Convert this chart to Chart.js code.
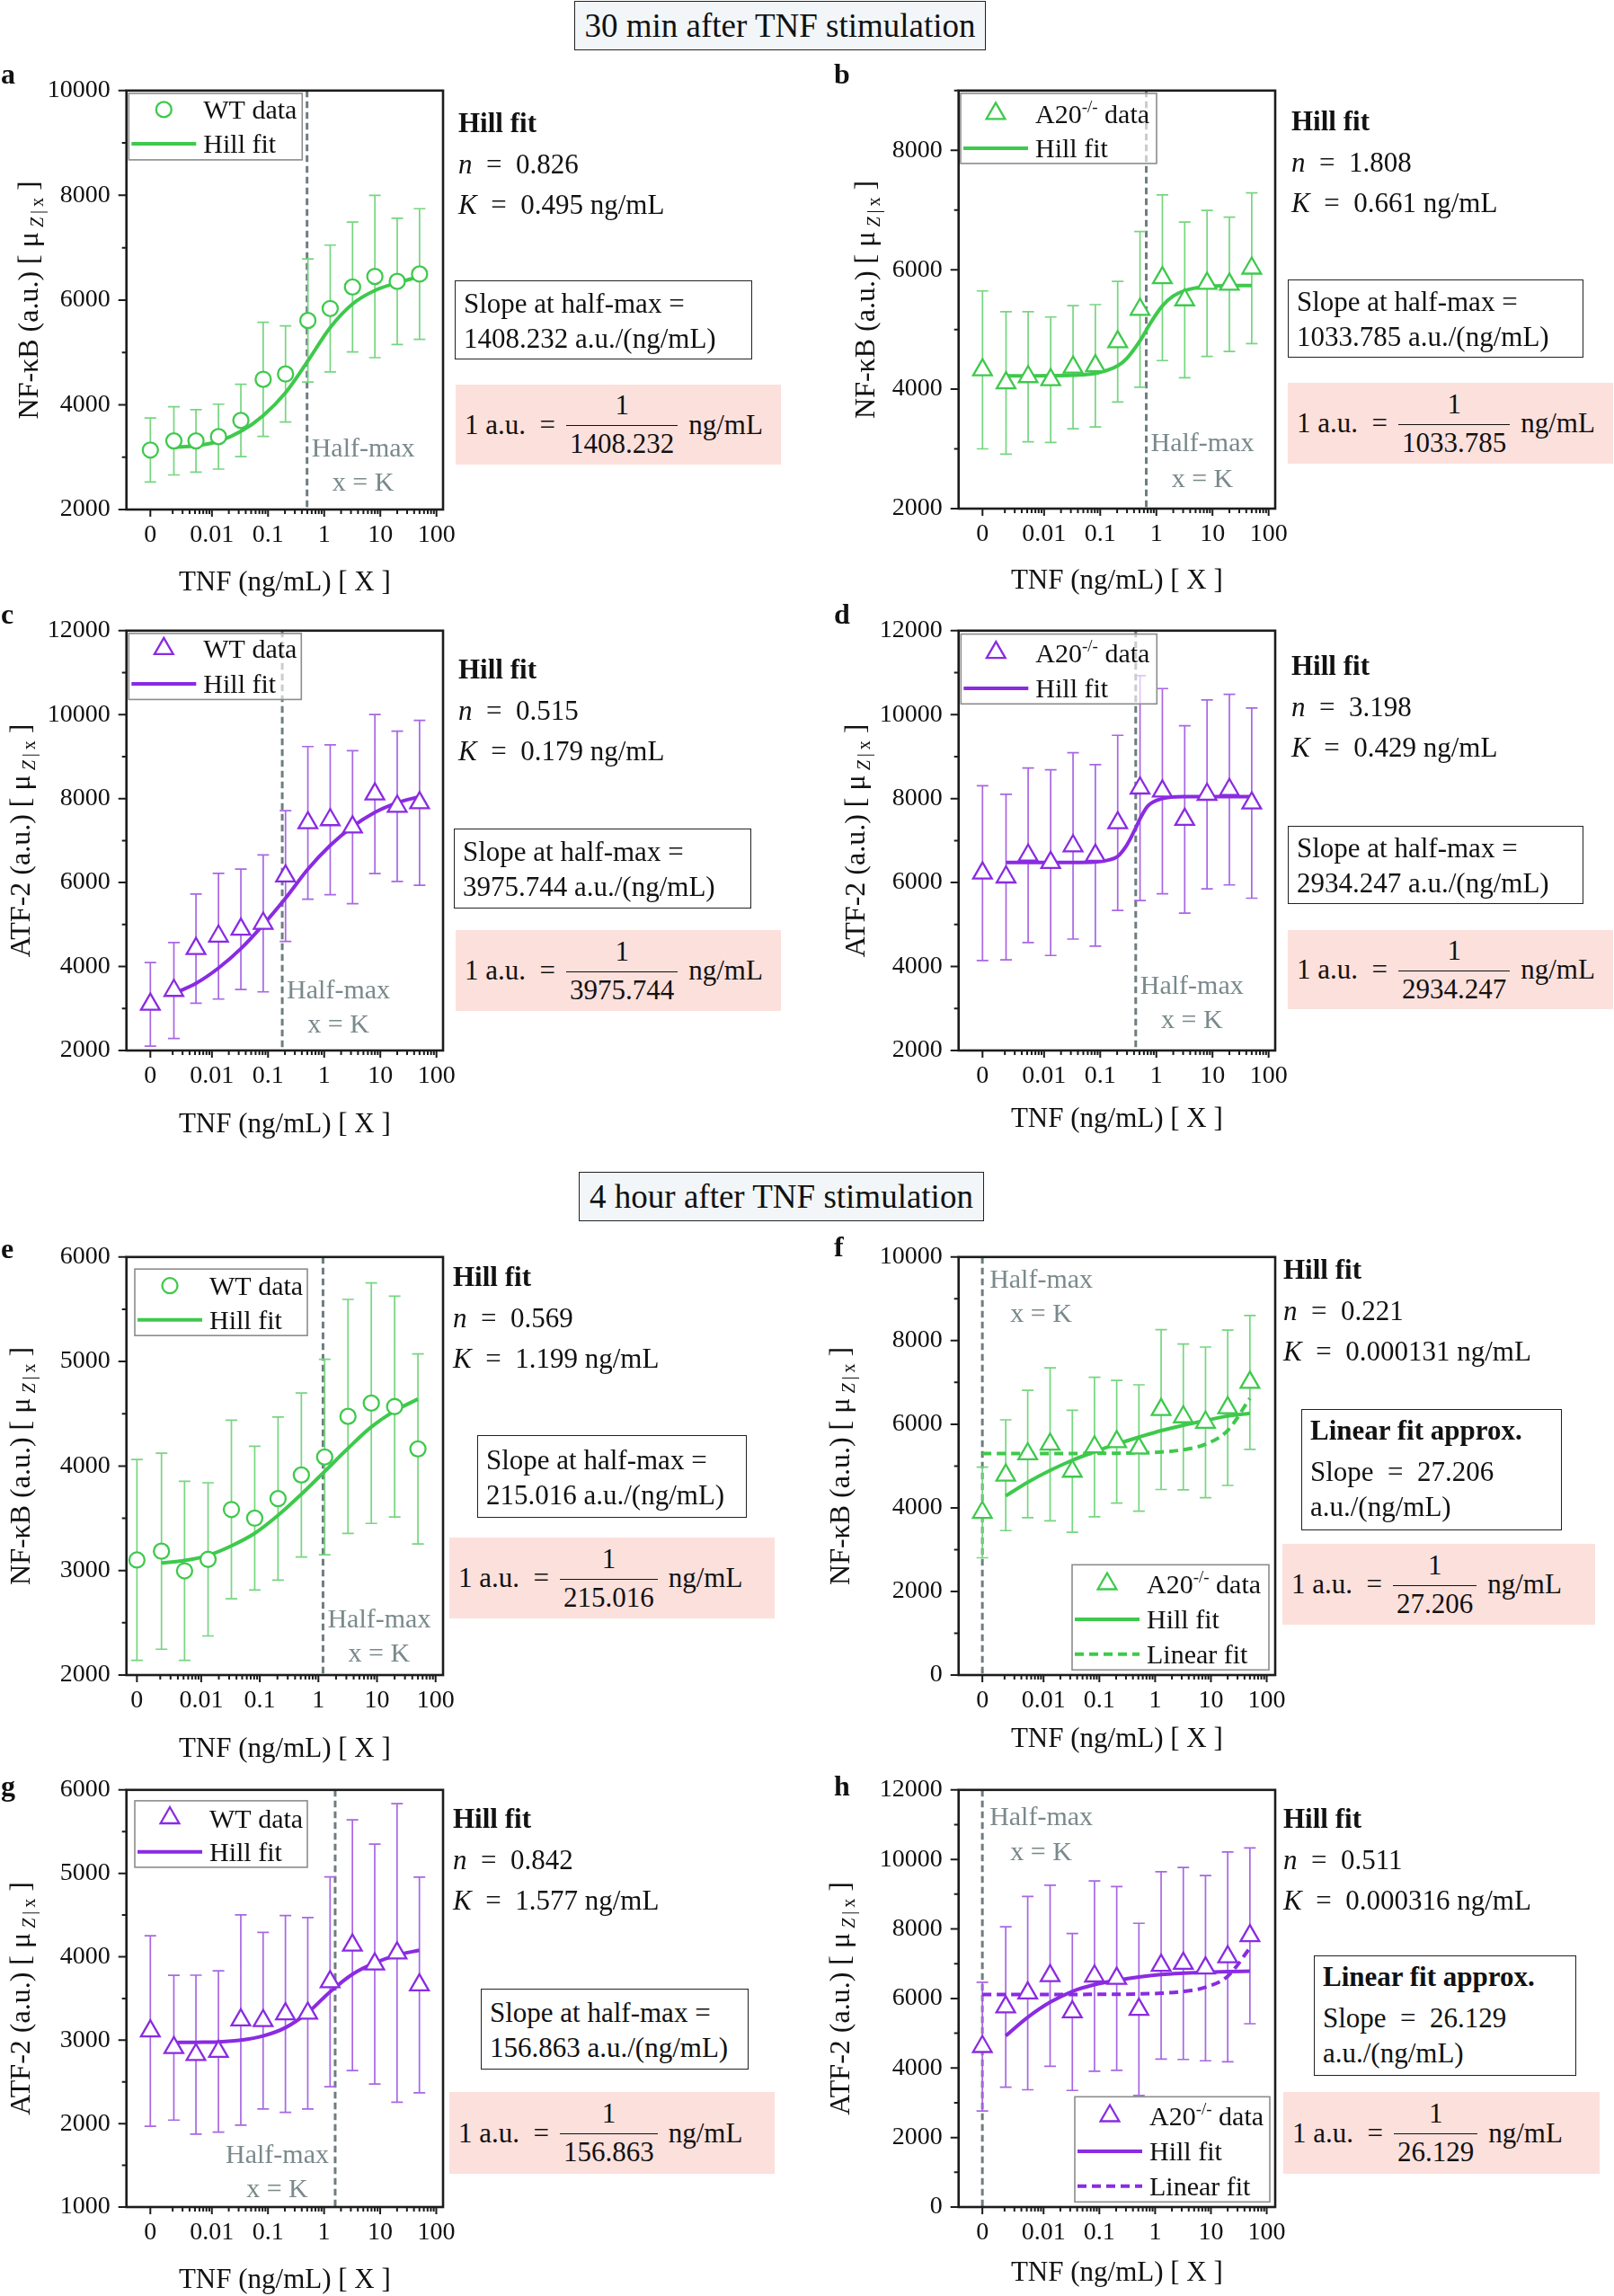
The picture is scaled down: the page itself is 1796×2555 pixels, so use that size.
<!DOCTYPE html>
<html>
<head>
<meta charset="utf-8">
<script src="https://cdn.jsdelivr.net/npm/chart.js@4.4.1/dist/chart.umd.min.js"></script>
<style>
  body { margin: 0; background: #fff; width: 1796px; height: 2555px; position: relative; overflow: hidden;
         font-family: "Liberation Serif", "Times New Roman", serif; color: #111; }
  .txt { position: absolute; white-space: nowrap; line-height: 1; }
  .panel { position: absolute; }
  .sbox { position: absolute; border: 1.6px solid #222; box-sizing: border-box; }
  .pink { position: absolute; background: #fce0dc; display: flex; align-items: center; padding-left: 10px;
          box-sizing: border-box; font-size: 31px; line-height: 34px; white-space: nowrap; }
  .frac { display: inline-flex; flex-direction: column; text-align: center; margin: 0 12px; }
  .num { padding: 0 4px 5px; border-bottom: 1.6px solid #111; }
  .den { padding: 3px 4px 0; }
  .ttl { position: absolute; border: 1.6px solid #222; background: #f2f6f8; font-size: 37px; box-sizing: border-box;
         display: flex; align-items: center; justify-content: center; white-space: nowrap; }
</style>
</head>
<body>
<div class="ttl" style="left:639px;top:1px;width:458px;height:55px">30 min after TNF stimulation</div>
<div class="ttl" style="left:644px;top:1304px;width:451px;height:55px">4 hour after TNF stimulation</div>
<script>
// TNF doses (ng/mL); dose 0 is shown at the "0" tick on the log axis
const tnfDose = [0, 0.0021, 0.0052, 0.0131, 0.0328, 0.0819, 0.2048, 0.512, 1.28, 3.2, 8, 20, 50];
const fitDose = tnfDose.slice(1);
const zeroAt = 0.0008;
const xTickDose = [0, 0.01, 0.1, 1, 10, 100];
const xTickLabels = ['0', '0.01', '0.1', '1', '10', '100'];

// a: NF-kB, WT, 30 min
const aMean = [3136, 3311, 3311, 3392, 3701, 4487, 4588, 5610, 5839, 6249, 6450, 6356, 6497];
const aErr = [612, 650, 595, 620, 690, 1090, 918, 1175, 1210, 1240, 1550, 1205, 1247];
const aFit = [3190, 3217, 3304, 3492, 3795, 4232, 4837, 5476, 5926, 6182, 6329, 6450];
// b: NF-kB, A20-/-, 30 min
const bMean = [4323, 4105, 4208, 4158, 4367, 4391, 4794, 5336, 5866, 5495, 5772, 5757, 6025];
const bErr = [1322, 1193, 1090, 1051, 1031, 1025, 1010, 1304, 1387, 1304, 1222, 1125, 1263];
const bFitDose = [0.0021, 0.0052, 0.0131, 0.0328, 0.0819, 0.2048, 0.3, 0.512, 0.8, 1.28, 2, 3.2, 8, 20, 50];
const bFit = [4222, 4224, 4226, 4236, 4265, 4392, 4520, 4812, 5120, 5395, 5560, 5652, 5722, 5734, 5736];
// c: ATF-2, WT, 30 min
const cMean = [3100, 3429, 4427, 4723, 4886, 5028, 6156, 7422, 7495, 7321, 8108, 7816, 7901];
const cErr = [994, 1144, 1299, 1498, 1433, 1631, 1558, 1818, 1786, 1822, 1895, 1790, 1964];
const cFit = [3356, 3599, 3964, 4427, 4995, 5628, 6318, 6886, 7333, 7674, 7901, 8047];
// d: ATF-2, A20-/-, 30 min
const dMean = [6225, 6131, 6651, 6476, 6874, 6647, 7422, 8250, 8177, 7503, 8100, 8213, 7893];
const dErr = [2082, 1972, 2078, 2212, 2220, 2163, 2086, 2679, 2443, 2232, 2252, 2269, 2265];
const dFitDose = [0.0021, 0.0052, 0.0131, 0.0328, 0.0819, 0.15, 0.2048, 0.3, 0.429, 0.512, 0.7, 1.28, 3.2, 8, 20, 50];
const dFit = [6481, 6481, 6481, 6481, 6490, 6545, 6625, 6900, 7300, 7520, 7820, 8000, 8045, 8047, 8047, 8047];
// e: NF-kB, WT, 4 h
const eMean = [3101, 3185, 2997, 3107, 3584, 3501, 3688, 3914, 4086, 4475, 4602, 4569, 4164];
const eErr = [961, 938, 857, 733, 855, 688, 780, 785, 935, 1119, 1151, 1057, 909];
const eFit = [3073, 3096, 3145, 3236, 3356, 3528, 3730, 3948, 4169, 4374, 4527, 4641];
// f: NF-kB, A20-/-, 4 h
const fMean = [3890, 4780, 5289, 5520, 4874, 5455, 5581, 5431, 6350, 6175, 6045, 6394, 7000];
const fErr = [1085, 1325, 1524, 1829, 1459, 1667, 1467, 1512, 1911, 1744, 1801, 1858, 1602];
const fFit = [4285, 4610, 4894, 5138, 5341, 5528, 5691, 5846, 5976, 6089, 6195, 6260];
const fLinear = [5300, 5300, 5300, 5300, 5300, 5302, 5306, 5315, 5335, 5390, 5520, 5850, 6620];
// g: ATF-2, WT, 4 h
const gMean = [3110, 2910, 2826, 2864, 3242, 3233, 3314, 3322, 3700, 4138, 3912, 4045, 3662];
const gErr = [1141, 868, 953, 967, 1260, 1058, 1179, 1147, 1258, 1502, 1438, 1789, 1292];
const gFit = [2972, 2975, 2980, 3000, 3050, 3150, 3330, 3580, 3790, 3925, 4020, 4078];
// h: ATF-2, A20-/-, 4 h
const hMean = [4614, 5757, 6155, 6654, 5612, 6644, 6576, 5685, 6950, 7008, 6872, 7197, 7803];
const hErr = [1851, 2307, 2782, 2603, 2258, 2738, 2641, 2477, 2695, 2762, 2665, 3019, 2530];
const hFit = [4924, 5457, 5893, 6203, 6397, 6523, 6620, 6688, 6727, 6756, 6775, 6785];
const hLinear = [6116, 6116, 6116, 6116, 6116, 6118, 6121, 6129, 6150, 6200, 6325, 6640, 7450];

// y tick labels
const aYTicks = [2000, 4000, 6000, 8000, 10000];
const bYTicks = [2000, 4000, 6000, 8000];
const cYTicks = [2000, 4000, 6000, 8000, 10000, 12000];
const dYTicks = [2000, 4000, 6000, 8000, 10000, 12000];
const eYTicks = [2000, 3000, 4000, 5000, 6000];
const fYTicks = [0, 2000, 4000, 6000, 8000, 10000];
const gYTicks = [1000, 2000, 3000, 4000, 5000, 6000];
const hYTicks = [0, 2000, 4000, 6000, 8000, 10000, 12000];

// fit results shown as text
const hillN = ['0.826', '1.808', '0.515', '3.198', '0.569', '0.221', '0.842', '0.511'];
const hillK = [0.495, 0.661, 0.179, 0.429, 1.199, 0.000131, 1.577, 0.000316];
const hillKText = ['0.495', '0.661', '0.179', '0.429', '1.199', '0.000131', '1.577', '0.000316'];
const slopeText = ['1408.232', '1033.785', '3975.744', '2934.247', '215.016', '27.206', '156.863', '26.129'];

const GREEN = '#3ec94c', GREEN_ERR = '#76d680', PURPLE = '#8a2be2', PURPLE_ERR = '#a767e4';
const SERIF = '"Liberation Serif", "Times New Roman", serif';
const Y_AXIS_W = 165;

const panels = [
  { key: 'a', mean: aMean, err: aErr, fitX: fitDose, fit: aFit, yTicks: aYTicks, yName: 'NF-κB', strain: 'WT', marker: 'circle',
    color: GREEN, errColor: GREEN_ERR, box: [140.7, 96.4, 493.3, 566.9], xRange: [0.00034, 131], yRange: [2000, 10000],
    legend: { corner: 'tl', dx: 2.6, dy: 3.1, w: 193, h: 74, base: 28.5, gap: 37.5 }, hm: { side: 'right', from: 'bottom', d1: 59, d2: 21 },
    yTitleOff: 98.7, xTitleOff: 90, letterPos: [1, 93], hill: [510, 147], slopeBox: [506, 312, 331, 88], pinkBox: [507, 428, 362, 89] },
  { key: 'b', mean: bMean, err: bErr, fitX: bFitDose, fit: bFit, yTicks: bYTicks, yName: 'NF-κB', strain: 'A20', marker: 'triangle',
    color: GREEN, errColor: GREEN_ERR, box: [1066.7, 96.4, 1419, 566.1], xRange: [0.00034, 131], yRange: [2000, 9000],
    legend: { corner: 'tl', dx: 2.3, dy: 3.1, w: 218, h: 78, base: 33, gap: 38 }, hm: { side: 'right', from: 'bottom', d1: 64, d2: 24.5 },
    yTitleOff: 93.7, xTitleOff: 89, letterPos: [928, 93], hill: [1437, 145], slopeBox: [1433, 311, 329, 87], pinkBox: [1433, 426, 362, 90] },
  { key: 'c', mean: cMean, err: cErr, fitX: fitDose, fit: cFit, yTicks: cYTicks, yName: 'ATF-2', strain: 'WT', marker: 'triangle',
    color: PURPLE, errColor: PURPLE_ERR, box: [140.7, 697.2, 493.3, 1168.7], xRange: [0.00034, 131], yRange: [2000, 12000],
    legend: { corner: 'tl', dx: 2.6, dy: 3.1, w: 192, h: 73.5, base: 27.5, gap: 38.5 }, hm: { side: 'right', from: 'bottom', d1: 58, d2: 20 },
    yTitleOff: 107.7, xTitleOff: 91, letterPos: [1, 694], hill: [510, 755], slopeBox: [505, 922, 331, 89], pinkBox: [507, 1035, 362, 90] },
  { key: 'd', mean: dMean, err: dErr, fitX: dFitDose, fit: dFit, yTicks: dYTicks, yName: 'ATF-2', strain: 'A20', marker: 'triangle',
    color: PURPLE, errColor: PURPLE_ERR, box: [1066.7, 697.2, 1419, 1168.7], xRange: [0.00034, 131], yRange: [2000, 12000],
    legend: { corner: 'tl', dx: 2.6, dy: 3.8, w: 218, h: 77.7, base: 31, gap: 39.5 }, hm: { side: 'right', from: 'bottom', d1: 63, d2: 25 },
    yTitleOff: 104.7, xTitleOff: 85, letterPos: [928, 694], hill: [1437, 751], slopeBox: [1433, 919, 329, 87], pinkBox: [1433, 1035, 362, 88] },
  { key: 'e', mean: eMean, err: eErr, fitX: fitDose, fit: eFit, yTicks: eYTicks, yName: 'NF-κB', strain: 'WT', marker: 'circle',
    color: GREEN, errColor: GREEN_ERR, box: [140.7, 1393.7, 493.3, 1864.4], xRange: [0.00053, 134], yRange: [2000, 6000],
    legend: { corner: 'tl', dx: 9.3, dy: 13.4, w: 192, h: 74, base: 29, gap: 37.5 }, hm: { side: 'right', from: 'bottom', d1: 53, d2: 15 },
    yTitleOff: 107.7, xTitleOff: 91, letterPos: [1, 1400], hill: [504, 1431], slopeBox: [531, 1597, 300, 92], pinkBox: [500, 1711, 362, 90] },
  { key: 'f', mean: fMean, err: fErr, fitX: fitDose, fit: fFit, lin: fLinear, yTicks: fYTicks, yName: 'NF-κB', strain: 'A20', marker: 'triangle',
    color: GREEN, errColor: GREEN_ERR, box: [1066.7, 1393.7, 1419, 1864.4], xRange: [0.00034, 142], yRange: [0, 10000],
    legend: { corner: 'br', dx: 7, dy: 5.7, w: 219, h: 117, base: 31.7, gap: 38.9 }, hm: { side: 'right', from: 'top', d1: 33.7, d2: 72, gap: 8 }, hmAtZero: true,
    yTitleOff: 121.7, xTitleOff: 80, letterPos: [928, 1398], hill: [1428, 1423], linBox: [1448, 1568, 290, 135], pinkBox: [1427, 1718, 348, 90] },
  { key: 'g', mean: gMean, err: gErr, fitX: fitDose, fit: gFit, yTicks: gYTicks, yName: 'ATF-2', strain: 'WT', marker: 'triangle',
    color: PURPLE, errColor: PURPLE_ERR, box: [140.7, 1986.6, 493.3, 2456.4], xRange: [0.00032, 132], yRange: [1000, 6000],
    legend: { corner: 'tl', dx: 9.3, dy: 12.1, w: 192, h: 74, base: 29.6, gap: 37.2 }, hm: { side: 'left', from: 'bottom', d1: 48.6, d2: 10.6 },
    yTitleOff: 107.7, xTitleOff: 90, letterPos: [1, 1998], hill: [504, 2034], slopeBox: [535, 2213, 298, 90], pinkBox: [500, 2328, 362, 91] },
  { key: 'h', mean: hMean, err: hErr, fitX: fitDose, fit: hFit, lin: hLinear, yTicks: hYTicks, yName: 'ATF-2', strain: 'A20', marker: 'triangle',
    color: PURPLE, errColor: PURPLE_ERR, box: [1066.7, 1986.6, 1419, 2456.4], xRange: [0.00033, 142], yRange: [0, 12000],
    legend: { corner: 'br', dx: 6, dy: 5.7, w: 217, h: 117, base: 31.7, gap: 38.9 }, hm: { side: 'right', from: 'top', d1: 38.7, d2: 77.8, gap: 8 }, hmAtZero: true,
    yTitleOff: 121.7, xTitleOff: 82, letterPos: [928, 1998], hill: [1428, 2034], linBox: [1462, 2176, 292, 134], pinkBox: [1428, 2328, 352, 91] }
];

const CIRCLE_R = 8.5, TRI_R = 12;

function axisDose(d) { return d === 0 ? zeroAt : d; }
function font(size, style) { return (style || '') + ' ' + size + 'px ' + SERIF; }

// minor/major x tick positions on the log axis
const xMajor = xTickDose.map(axisDose);
const xAll = xMajor.slice();
for (let e = -3; e <= 1; e++) for (let k = 2; k <= 9; k++) xAll.push(k * Math.pow(10, e));
xAll.sort((p, q) => p - q);
function isMajorX(v) { return xMajor.some(m => Math.abs(Math.log10(m) - Math.log10(v)) < 1e-6); }

function richWidth(ctx, parts) {
  let w = 0;
  parts.forEach(pt => { ctx.font = pt.font; w += ctx.measureText(pt.t).width; });
  return w;
}
function drawRich(ctx, parts, x, y, align) {
  const w = richWidth(ctx, parts);
  let px = align === 'center' ? x - w / 2 : align === 'right' ? x - w : x;
  ctx.save();
  ctx.textAlign = 'left';
  ctx.textBaseline = 'alphabetic';
  parts.forEach(pt => { ctx.font = pt.font; ctx.fillText(pt.t, px, y + (pt.dy || 0)); px += ctx.measureText(pt.t).width; });
  ctx.restore();
  return w;
}

function drawMarker(ctx, style, x, y, color) {
  ctx.save();
  ctx.strokeStyle = color;
  ctx.fillStyle = '#fff';
  ctx.lineWidth = 2.3;
  ctx.beginPath();
  if (style === 'circle') {
    ctx.arc(x, y, CIRCLE_R, 0, Math.PI * 2);
  } else {
    for (let k = 0; k < 3; k++) {
      const ang = k * 2 * Math.PI / 3;
      const px = x + Math.sin(ang) * TRI_R, py = y - Math.cos(ang) * TRI_R;
      if (k) ctx.lineTo(px, py); else ctx.moveTo(px, py);
    }
    ctx.closePath();
  }
  ctx.fill();
  ctx.stroke();
  ctx.restore();
}

function decor(p) {
  return {
    id: 'decor' + p.key,
    beforeDatasetsDraw(chart) {
      const { ctx, chartArea: a, scales: { x, y } } = chart;
      // half-max dashed line
      const hx = x.getPixelForValue(p.hmAtZero ? zeroAt : p.K);
      ctx.save();
      ctx.strokeStyle = '#6e7d80';
      ctx.lineWidth = 3;
      ctx.setLineDash([7.5, 4.5]);
      ctx.beginPath();
      ctx.moveTo(hx, a.top);
      ctx.lineTo(hx, a.bottom);
      ctx.stroke();
      ctx.restore();
      // error bars
      ctx.save();
      ctx.strokeStyle = p.errColor;
      ctx.lineWidth = 1.7;
      ctx.beginPath();
      p.mean.forEach((m, i) => {
        const px = x.getPixelForValue(axisDose(tnfDose[i]));
        const t = y.getPixelForValue(m + p.err[i]), b = y.getPixelForValue(m - p.err[i]);
        ctx.moveTo(px, t); ctx.lineTo(px, b);
        ctx.moveTo(px - 6.5, t); ctx.lineTo(px + 6.5, t);
        ctx.moveTo(px - 6.5, b); ctx.lineTo(px + 6.5, b);
      });
      ctx.stroke();
      ctx.restore();
    },
    afterDatasetsDraw(chart) {
      const { ctx, chartArea: a, scales: { x, y } } = chart;
      ctx.save();
      // frame
      ctx.strokeStyle = '#1c1c1c';
      ctx.lineWidth = 2.6;
      ctx.strokeRect(a.left, a.top, a.right - a.left, a.bottom - a.top);
      // tick marks
      ctx.lineWidth = 2;
      ctx.beginPath();
      x.ticks.forEach(t => {
        const px = x.getPixelForValue(t.value);
        ctx.moveTo(px, a.bottom);
        ctx.lineTo(px, a.bottom + (isMajorX(t.value) ? 8 : 5));
      });
      y.ticks.forEach(t => {
        const py = y.getPixelForValue(t.value);
        ctx.moveTo(a.left, py);
        ctx.lineTo(a.left - (p.yTicks.includes(t.value) ? 9 : 5), py);
      });
      ctx.stroke();

      // half-max label
      const hx = x.getPixelForValue(p.hmAtZero ? zeroAt : p.K);
      ctx.fillStyle = '#7a898b';
      const hmParts = [{ t: 'Half-max', font: font(30) }];
      const xkParts = [{ t: 'x = K', font: font(30) }];
      const hw = richWidth(ctx, hmParts);
      const gap = p.hm.gap || 5;
      const cx = p.hm.side === 'right' ? hx + gap + hw / 2 : hx - 7 - hw / 2;
      const y1 = p.hm.from === 'bottom' ? a.bottom - p.hm.d1 : a.top + p.hm.d1;
      const y2 = p.hm.from === 'bottom' ? a.bottom - p.hm.d2 : a.top + p.hm.d2;
      drawRich(ctx, hmParts, cx, y1, 'center');
      drawRich(ctx, xkParts, cx, y2, 'center');

      // legend
      const L = p.legend;
      const bx = L.corner === 'tl' ? a.left + L.dx : a.right - L.dx - L.w;
      const by = L.corner === 'tl' ? a.top + L.dy : a.bottom - L.dy - L.h;
      ctx.fillStyle = 'rgba(255,255,255,0.62)';
      ctx.fillRect(bx, by, L.w, L.h);
      ctx.strokeStyle = '#8c8c8c';
      ctx.lineWidth = 1.6;
      ctx.strokeRect(bx, by, L.w, L.h);
      drawMarker(ctx, p.marker, bx + 39, by + L.base - 10.5, p.color);
      ctx.fillStyle = '#111';
      const label = p.strain === 'WT'
        ? [{ t: 'WT data', font: font(30) }]
        : [{ t: 'A20', font: font(30) }, { t: '-/-', font: font(19), dy: -12 }, { t: ' data', font: font(30) }];
      drawRich(ctx, label, bx + 83, by + L.base, 'left');
      ctx.strokeStyle = p.color;
      ctx.lineWidth = 4;
      ctx.beginPath();
      ctx.moveTo(bx + 3, by + L.base + L.gap - 10);
      ctx.lineTo(bx + 75, by + L.base + L.gap - 10);
      ctx.stroke();
      drawRich(ctx, [{ t: 'Hill fit', font: font(30) }], bx + 83, by + L.base + L.gap, 'left');
      if (p.lin) {
        ctx.setLineDash([10, 6]);
        ctx.beginPath();
        ctx.moveTo(bx + 3, by + L.base + 2 * L.gap - 10);
        ctx.lineTo(bx + 75, by + L.base + 2 * L.gap - 10);
        ctx.stroke();
        ctx.setLineDash([]);
        drawRich(ctx, [{ t: 'Linear fit', font: font(30) }], bx + 83, by + L.base + 2 * L.gap, 'left');
      }

      // axis titles
      ctx.fillStyle = '#111';
      drawRich(ctx, [{ t: 'TNF (ng/mL) [ X ]', font: font(31) }], (a.left + a.right) / 2, a.bottom + p.xTitleOff, 'center');
      ctx.translate(a.left - p.yTitleOff, (a.top + a.bottom) / 2);
      ctx.rotate(-Math.PI / 2);
      drawRich(ctx, [
        { t: p.yName + ' (a.u.) [ μ', font: font(32) },
        { t: ' Z', font: font(20, 'italic'), dy: 6 },
        { t: '\u2009|\u2009', font: font(20), dy: 6 },
        { t: 'x', font: font(20), dy: 6 },
        { t: ' ]', font: font(32) }
      ], 0, 0, 'center');
      ctx.restore();
    }
  };
}

function addText(x, baseline, html, size, weight) {
  const d = document.createElement('div');
  d.className = 'txt';
  d.style.left = x + 'px';
  d.style.top = (baseline - 0.8375 * size) + 'px';
  d.style.fontSize = size + 'px';
  if (weight) d.style.fontWeight = weight;
  d.innerHTML = html;
  document.body.appendChild(d);
}
function addBox(cls, r) {
  const d = document.createElement('div');
  d.className = cls;
  d.style.left = r[0] + 'px';
  d.style.top = r[1] + 'px';
  d.style.width = r[2] + 'px';
  d.style.height = r[3] + 'px';
  document.body.appendChild(d);
  return d;
}

panels.forEach((p, i) => {
  p.K = hillK[i];
  const [L, T, R, B] = p.box;
  const left = Math.round(L - Y_AXIS_W), top = Math.round(T - 30);
  const padTop = T - top, padLeft = L - left - Y_AXIS_W;
  const w = Math.round(R - L + Y_AXIS_W + padLeft + 40), h = Math.round(B - T + padTop + 110);
  const holder = document.createElement('div');
  holder.className = 'panel';
  holder.style.left = left + 'px';
  holder.style.top = top + 'px';
  const cv = document.createElement('canvas');
  cv.width = w; cv.height = h;
  cv.style.width = w + 'px'; cv.style.height = h + 'px';
  holder.appendChild(cv);
  document.body.appendChild(holder);

  const yStep = p.yTicks[1] - p.yTicks[0];
  const yAll = [];
  for (let v = p.yRange[0]; v <= p.yRange[1] + 1e-6; v += yStep / 2) yAll.push(v);

  const datasets = [
    { label: 'data', data: p.mean.map((m, k) => ({ x: axisDose(tnfDose[k]), y: m })), showLine: false,
      pointStyle: p.marker, pointRadius: p.marker === 'circle' ? CIRCLE_R : TRI_R, pointBorderWidth: 2.3,
      pointBorderColor: p.color, pointBackgroundColor: '#fff', order: 0 },
    { label: 'Hill fit', data: p.fitX.map((d, k) => ({ x: d, y: p.fit[k] })), showLine: true, pointRadius: 0,
      borderColor: p.color, borderWidth: 4, cubicInterpolationMode: 'monotone', fill: false, order: 1 }
  ];
  if (p.lin) {
    datasets.push({ label: 'Linear fit', data: p.lin.map((v, k) => ({ x: axisDose(tnfDose[k]), y: v })), showLine: true,
      pointRadius: 0, borderColor: p.color, borderWidth: 4, borderDash: [10, 6], cubicInterpolationMode: 'monotone',
      fill: false, order: 2 });
  }

  new Chart(cv, {
    type: 'scatter',
    data: { datasets },
    options: {
      responsive: false,
      animation: false,
      events: [],
      layout: { padding: { top: padTop, right: 40, left: padLeft, bottom: 0 } },
      plugins: { legend: { display: false }, tooltip: { enabled: false } },
      scales: {
        x: {
          type: 'logarithmic', min: p.xRange[0], max: p.xRange[1],
          afterBuildTicks: s => { s.ticks = xAll.map(v => ({ value: v })); },
          afterFit: s => { s.height = 110; },
          grid: { display: false, drawTicks: false }, border: { display: false },
          ticks: {
            autoSkip: false, maxRotation: 0, minRotation: 0, padding: 12, color: '#111',
            font: { family: SERIF, size: 28 },
            callback: v => { const k = xMajor.findIndex(m => Math.abs(Math.log10(m) - Math.log10(v)) < 1e-6); return k >= 0 ? xTickLabels[k] : ''; }
          }
        },
        y: {
          type: 'linear', min: p.yRange[0], max: p.yRange[1],
          afterBuildTicks: s => { s.ticks = yAll.map(v => ({ value: v })); },
          afterFit: s => { s.width = Y_AXIS_W; },
          grid: { display: false, drawTicks: false }, border: { display: false },
          ticks: {
            padding: 18, color: '#111', font: { family: SERIF, size: 28 },
            callback: v => p.yTicks.includes(v) ? String(v) : ''
          }
        }
      }
    },
    plugins: [decor(p)]
  });

  // panel letter
  addText(p.letterPos[0], p.letterPos[1], String.fromCharCode(97 + i), 32, 'bold');
  // Hill fit block
  addText(p.hill[0], p.hill[1], 'Hill fit', 31, 'bold');
  addText(p.hill[0], p.hill[1] + 46, '<i>n</i>&ensp;=&ensp;' + hillN[i], 31);
  addText(p.hill[0], p.hill[1] + 91, '<i>K</i>&ensp;=&ensp;' + hillKText[i] + ' ng/mL', 31);
  if (p.slopeBox) {
    const r = p.slopeBox;
    addBox('sbox', r);
    const off = (r[3] - 87) / 2;
    addText(r[0] + 10, r[1] + 35 + off, 'Slope at half-max&nbsp;=', 31);
    addText(r[0] + 10, r[1] + 74 + off, slopeText[i] + ' a.u./(ng/mL)', 31);
  }
  if (p.linBox) {
    const r = p.linBox;
    addBox('sbox', r);
    addText(r[0] + 10, r[1] + 34, 'Linear fit approx.', 31, 'bold');
    addText(r[0] + 10, r[1] + 80, 'Slope&ensp;=&ensp;' + slopeText[i], 31);
    addText(r[0] + 10, r[1] + 119, 'a.u./(ng/mL)', 31);
  }
  const pk = addBox('pink', p.pinkBox);
  pk.innerHTML = '<span>1 a.u.&ensp;=</span><span class="frac"><span class="num">1</span><span class="den">' +
    slopeText[i] + '</span></span><span>ng/mL</span>';
});
</script>
</body>
</html>
